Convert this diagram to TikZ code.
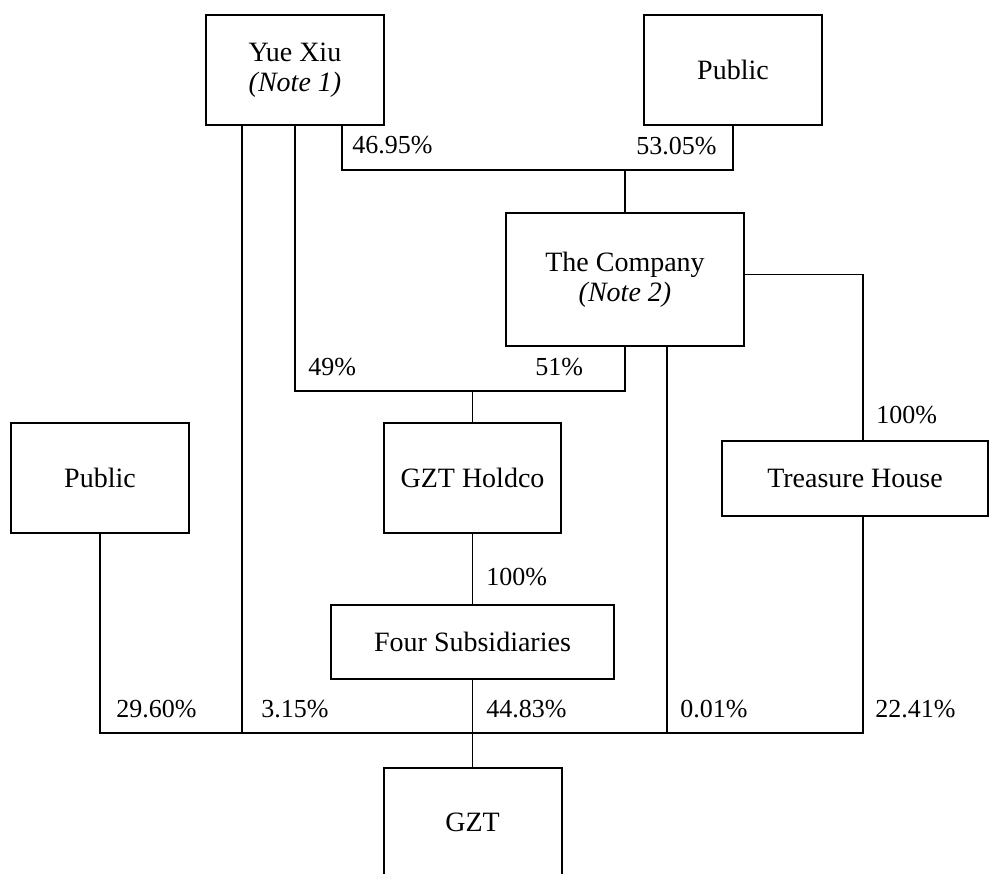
\documentclass[tikz,border=0pt]{standalone}
\usepackage{fontspec}
\setmainfont{Liberation Serif}
\usetikzlibrary{calc}

\begin{document}
\begin{tikzpicture}[x=0.5pt, y=-0.5pt,
  entity/.style={draw=black, line width=1pt, align=center, inner sep=0pt,
    font=\fontsize{14}{15}\selectfont},
  %
  share/.style={inner sep=0pt, font=\fontsize{13}{15}\selectfont},
  %
  link/.style={draw=black, line width=0.75pt}
  ]

  \clip (0,0) rectangle (989,873);

  \begin{scope}
    % owners
    \node [entity, minimum width=89pt, minimum height=55pt] (yuexiu) at (295,70)
      {Yue Xiu\\\textit{(Note 1)}};
    \node [entity, minimum width=89pt, minimum height=55pt] (pubtop) at (733,70)
      {Public};
    \node [entity, minimum width=119pt, minimum height=66.5pt] (company) at (625,279.5)
      {The Company\\\textit{(Note 2)}};
    % middle row
    \node [entity, minimum width=89pt, minimum height=55pt] (publeft) at (100,478)
      {Public};
    \node [entity, minimum width=88.5pt, minimum height=55pt] (holdco) at (472.5,478)
      {GZT Holdco};
    \node [entity, minimum width=133pt, minimum height=37.5pt] (treasure) at (855,478.5)
      {Treasure House};
    % lower part
    \node [entity, minimum width=141.5pt, minimum height=37pt] (foursub) at (472.5,642)
      {Four Subsidiaries};
    \node [entity, minimum width=89pt, minimum height=54pt] (gzt) at (472.5,822)
      {GZT};
  \end{scope}

  \begin{scope}
    \coordinate (topbus) at (0,170);
    \coordinate (midbus) at (0,391);
    \coordinate (lowbus) at (0,733);
    \coordinate (yxlow) at ($(yuexiu.south)+(-53,0)$);
    \coordinate (yxtop) at ($(yuexiu.south)+(47,0)$);
    \coordinate (colow) at ($(company.south)+(42,0)$);
    \coordinate (coright) at ($(company.east)+(0,-5)$);
    \coordinate (thtop) at ($(treasure.north)+(8,0)$);
    \coordinate (thlow) at ($(treasure.south)+(8,0)$);

    \draw [link] (yxtop) |- (topbus -| pubtop.south) -- (pubtop.south);
    \draw [link] (company.north) -- (company.north |- topbus);
    \draw [link] (yuexiu.south) |- (midbus -| company.south) -- (company.south);
    \draw [link] (holdco.north) -- (holdco.north |- midbus);
    \draw [link] (coright) -| (thtop);
    \draw [link] (holdco.south) -- (foursub.north);
    \draw [link] (publeft.south) |- (lowbus -| thlow) -- (thlow);
    \draw [link] (yxlow) -- (yxlow |- lowbus);
    \draw [link] (colow) -- (colow |- lowbus);
    \draw [link] (foursub.south) -- (gzt.north);
  \end{scope}

  \begin{scope}
    \node [share, anchor=base west] (p4695) at (352,153) {46.95\%};
    \node [share, anchor=base east] (p5305) at (717,154) {53.05\%};
    \node [share, anchor=base west] (p49) at (308,375) {49\%};
    \node [share, anchor=base west] (p51) at (535,375) {51\%};
    \node [share, anchor=base west] (pth) at (876,423) {100\%};
    \node [share, anchor=base west] (pfour) at (486,585) {100\%};
    \node [share, anchor=base west] (ppub) at (116,717) {29.60\%};
    \node [share, anchor=base west] (pyx) at (261,717) {3.15\%};
    \node [share, anchor=base west] (phold) at (486,717) {44.83\%};
    \node [share, anchor=base west] (pco) at (680,717) {0.01\%};
    \node [share, anchor=base west] (ptr) at (875,717) {22.41\%};
  \end{scope}

\end{tikzpicture}
\end{document}
